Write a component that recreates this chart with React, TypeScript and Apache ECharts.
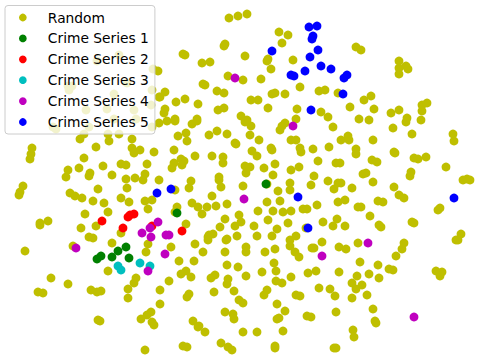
import React, { useEffect, useRef } from "react";
import * as echarts from "echarts";

const seriesNames = ["Random", "Crime Series 1", "Crime Series 2", "Crime Series 3", "Crime Series 4", "Crime Series 5"];
const seriesColors = ["#bfbf00", "#008000", "#ff0000", "#00bfbf", "#bf00bf", "#0000ff"];

const randomPoints = [
  [229,18],[238,16],[247,14],[279,32],[288,35],[282,43],[224,46],[225,44],[183,54],[185,55],[202,63],[210,62],[245,56],[268,59],[267,61],[271,69],[293,60],[228,76],[243,80],[261,79],[300,87],[203,84],[205,85],[165,92],[217,91],[224,93],[275,93],[272,94],[285,94],[160,97],[251,100],[258,100],[185,99],[176,102],[198,104],[319,91],[268,108],[297,109],[224,108],[218,110],[165,109],[164,113],[321,112],[241,116],[296,119],[175,119],[197,119],[247,120],
  [356,47],[361,50],[399,61],[399,68],[406,66],[408,69],[399,74],[325,90],[338,93],[364,100],[371,96],[350,107],[374,109],[391,113],[399,110],[427,103],[422,105],[422,111],[328,117],[359,119],[369,120],[407,118],[421,120],
  [119,55],[97,61],[153,69],[158,71],[127,83],[68,86],[72,86],[69,90],[152,90],[114,94],[159,97],[86,110],[107,109],[134,110],[151,105],[114,119],[136,119],[53,127],[56,129],[89,127],[152,127],[159,123],[84,134],[108,134],[119,134],
  [80,139],[109,141],[132,139],[96,147],[132,148],[134,153],[140,150],[154,152],[32,148],[31,154],[30,159],[84,158],[147,164],[103,166],[121,164],[126,165],[68,170],[66,177],[79,168],[90,173],[89,176],[112,175],[145,174],[126,179],[135,178],[143,180],[159,180],[23,186],[20,192],[19,195],[98,189],[127,188],[70,193],[75,196],[82,198],[93,201],[104,203],[121,198],[129,202],[145,201],[152,200],[148,209],[108,212],[85,214],[48,221],[40,223],[40,225],[96,226],[81,228],[121,233],[89,237],[93,238],
  [167,121],[175,121],[192,124],[197,121],[245,122],[251,126],[285,123],[282,126],[280,130],[178,136],[186,133],[187,141],[209,135],[217,131],[227,134],[250,135],[259,140],[235,143],[236,144],[291,140],[296,140],[174,150],[252,151],[257,156],[271,148],[272,150],[300,148],[301,152],[313,149],[195,156],[212,156],[223,157],[223,163],[181,159],[184,161],[182,165],[174,163],[172,168],[318,161],[275,164],[264,168],[245,166],[250,167],[246,173],[291,170],[299,167],[273,175],[314,176],[191,181],[219,177],[219,180],[189,188],[221,187],[243,186],[290,183],[311,185],[267,184],[175,190],[278,191],[290,190],[212,196],[267,202],[280,201],[192,203],[198,207],[207,207],[216,206],[227,204],[177,207],[175,212],[202,214],[258,211],[273,211],[283,212],[291,211],[303,209],[307,209],[317,205],[239,215],[225,219],[241,222],[268,220],[186,224],[288,223],[220,227],[235,226],[254,226],[277,229],[306,228],[213,234],[209,235],[208,237],[237,236],[257,236],[272,236],[227,239],[296,236],
  [333,127],[393,128],[406,122],[341,140],[348,136],[349,140],[373,140],[412,134],[453,134],[454,141],[329,147],[356,149],[356,154],[394,152],[395,153],[336,163],[340,163],[372,160],[377,162],[414,158],[418,159],[426,157],[446,167],[363,174],[366,173],[411,172],[410,176],[328,181],[338,183],[341,183],[373,182],[463,180],[467,179],[470,180],[334,189],[352,188],[394,187],[399,195],[404,198],[338,202],[345,200],[378,201],[383,202],[358,207],[361,207],[440,208],[438,210],[370,216],[323,222],[337,219],[333,226],[345,226],[379,225],[381,227],[412,222],[414,223],[461,234],[456,240],[458,240],
  [25,251],[73,246],[112,243],[148,244],[146,252],[108,271],[51,278],[68,284],[38,292],[43,293],[136,278],[134,283],[128,289],[128,298],[91,290],[97,292],[101,291],[160,290],[160,304],[98,320],[100,321],[151,312],[147,315],[141,319],[152,322],[154,325],[145,350],
  [171,247],[195,244],[208,240],[203,252],[226,240],[225,252],[246,247],[246,252],[265,252],[275,249],[290,246],[290,240],[295,252],[299,257],[312,248],[314,248],[179,261],[194,261],[227,265],[238,267],[274,263],[186,271],[181,274],[191,277],[215,275],[211,278],[246,276],[262,272],[276,271],[291,277],[276,281],[282,283],[308,273],[316,271],[228,279],[227,284],[169,281],[214,292],[234,291],[267,290],[264,295],[189,294],[187,297],[319,288],[296,295],[300,296],[239,300],[243,303],[277,304],[285,311],[225,312],[233,314],[234,319],[279,318],[277,319],[307,316],[311,317],[193,321],[199,326],[198,327],[205,332],[243,332],[257,332],[283,331],[221,343],[228,347],[232,350],[183,346],[187,347],[275,346],[275,348],
  [322,242],[358,243],[339,247],[346,249],[404,243],[402,249],[396,256],[360,262],[378,265],[389,269],[393,270],[436,271],[442,272],[440,276],[339,272],[369,274],[357,276],[379,278],[352,283],[362,285],[356,289],[330,289],[335,296],[352,298],[367,295],[373,309],[336,312],[375,321],[376,323],[353,330],[354,337],[334,348],[336,348],
];
const crimeSeries1 = [[266,184],[177,213],[126,247],[118,251],[101,256],[97,259],[112,257],[129,258]];
const crimeSeries2 = [[128,217],[130,215],[134,214],[102,221],[123,228],[152,226],[182,231]];
const crimeSeries3 = [[118,266],[121,270],[140,263],[150,266]];
const crimeSeries4 = [[235,78],[293,126],[158,222],[150,228],[142,233],[151,237],[244,199],[166,235],[169,235],[76,248],[148,271],[165,254],[322,256],[368,243],[414,317]];
const crimeSeries5 = [[309,27],[317,26],[313,36],[312,39],[272,51],[318,50],[310,57],[305,71],[291,75],[294,76],[321,66],[311,110],[331,69],[347,75],[344,78],[343,94],[157,193],[171,189],[298,197],[308,228],[454,198]];

const allSeries = [randomPoints, crimeSeries1, crimeSeries2, crimeSeries3, crimeSeries4, crimeSeries5];

export default function App() {
  const ref = useRef<HTMLDivElement>(null);
  useEffect(() => {
    document.body.style.margin = "0";
    const chart = echarts.init(ref.current!, undefined, { renderer: "svg" });
    chart.setOption({
      animation: false,
      grid: { left: 0, right: 0, top: 0, bottom: 0 },
      xAxis: { type: "value", min: 0, max: 480, show: false },
      yAxis: { type: "value", min: 0, max: 360, inverse: true, show: false },
      legend: {
        left: 5,
        top: 5.5,
        orient: "vertical",
        padding: [4, 6, 4, 14],
        itemWidth: 40,
        itemHeight: 7.7,
        itemGap: 4.9,
        icon: "circle",
        backgroundColor: "rgba(255,255,255,0.8)",
        borderColor: "#cccccc",
        borderWidth: 1,
        borderRadius: 3,
        data: seriesNames,
        textStyle: { fontFamily: "DejaVu Sans", fontSize: 13.8, color: "#000", lineHeight: 16 },
      },
      series: allSeries.map((points, i) => ({
        type: "scatter",
        name: seriesNames[i],
        data: points,
        symbol: "circle",
        symbolSize: 8.8,
        itemStyle: { color: seriesColors[i], opacity: 1 },
        z: 2 + i,
      })),
    });
    return () => chart.dispose();
  }, []);
  return <div ref={ref} style={{ width: 480, height: 360 }} />;
}
